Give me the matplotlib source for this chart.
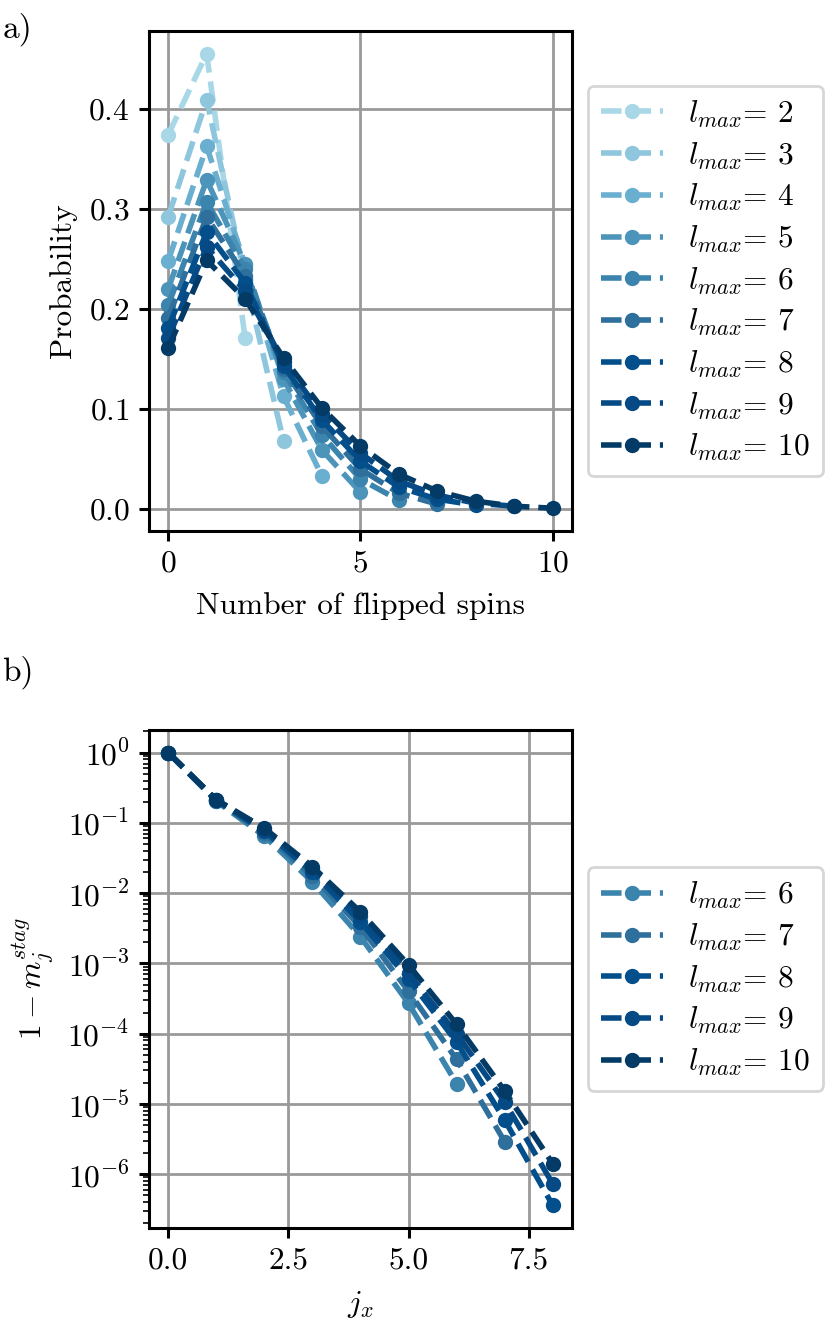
import matplotlib
matplotlib.use("Agg")
import matplotlib.pyplot as plt

plt.rcParams.update({
    "font.family": "serif",
    "font.serif": ["cmr10"],
    "mathtext.fontset": "cm",
    "axes.formatter.use_mathtext": True,
    "font.size": 11.3,
    "axes.linewidth": 1.1,
    "xtick.major.width": 1.1,
    "ytick.major.width": 1.1,
})

# panel a: probability of n flipped spins, one list per l_max
lmax_a = [2, 3, 4, 5, 6, 7, 8, 9, 10]
prob = {
    2: [0.374, 0.455, 0.171],
    3: [0.292, 0.409, 0.231, 0.068],
    4: [0.248, 0.3625, 0.244, 0.1126, 0.033],
    5: [0.220, 0.329, 0.245, 0.130, 0.059, 0.017],
    6: [0.2035, 0.307, 0.240, 0.137, 0.074, 0.030, 0.009],
    7: [0.191, 0.292, 0.233, 0.140, 0.083, 0.040, 0.016, 0.005],
    8: [0.181, 0.277, 0.226, 0.143, 0.089, 0.048, 0.022, 0.010, 0.004],
    9: [0.171, 0.262, 0.218, 0.147, 0.095, 0.056, 0.028, 0.014, 0.006, 0.003],
    10: [0.161, 0.2485, 0.210, 0.151, 0.101, 0.063, 0.035, 0.018, 0.008, 0.003, 0.001],
}

# panel b: 1 - staggered magnetisation along j_x
lmax_b = [6, 7, 8, 9, 10]
stag = {
    6: [1.0, 0.204, 0.065, 0.0145, 0.0024, 0.00027, 1.95e-5],
    7: [1.0, 0.207, 0.071, 0.0175, 0.0033, 0.00040, 4.3e-5, 2.9e-6],
    8: [1.0, 0.210, 0.076, 0.020, 0.0039, 0.00060, 7.6e-5, 5.9e-6, 3.6e-7],
    9: [1.0, 0.212, 0.080, 0.022, 0.0047, 0.00072, 1.0e-4, 1.07e-5, 7.3e-7],
    10: [1.0, 0.214, 0.084, 0.0238, 0.0054, 0.00095, 1.36e-4, 1.53e-5, 1.41e-6],
}
jx_ticks = [0.0, 2.5, 5.0, 7.5]

colors = {
    2: "#a8d8e8", 3: "#8ec6de", 4: "#6aaed0", 5: "#4c94ba", 6: "#3a84ad",
    7: "#2e6f9c", 8: "#034f8c", 9: "#054a84", 10: "#033b66",
}

fig = plt.figure(figsize=(4.15, 6.64), dpi=200)
ax1 = fig.add_axes([0.1795, 0.6002, 0.5096, 0.3765])
ax2 = fig.add_axes([0.1795, 0.0753, 0.5096, 0.375])

for l in lmax_a:
    y = prob[l]
    ax1.plot(range(len(y)), y, "--o", color=colors[l], lw=2, ms=4.5,
             label=r"$l_{max}$= " + str(l))
ax1.set_xlabel("Number of flipped spins", labelpad=5)
ax1.set_ylabel("Probability")
ax1.set_xticks([0, 5, 10])
ax1.set_yticks([0.0, 0.1, 0.2, 0.3, 0.4])
ax1.grid(True, color="#999999", lw=1)
ax1.set_axisbelow(True)
ax1.legend(loc="center left", bbox_to_anchor=(1.038, 0.5), borderaxespad=0,
           labelspacing=0.33)

for l in lmax_b:
    y = stag[l]
    ax2.plot(range(len(y)), y, "--o", color=colors[l], lw=2, ms=4.5,
             label=r"$l_{max}$= " + str(l))
ax2.set_yscale("log")
ax2.set_xticks(jx_ticks)
ax2.set_xticklabels([f"{t:.1f}" for t in jx_ticks])
ax2.set_xlabel(r"$j_x$", labelpad=5)
ax2.set_ylabel(r"$1-m_j^{stag}$")
ax2.grid(True, color="#999999", lw=1)
ax2.set_axisbelow(True)
ax2.legend(loc="center left", bbox_to_anchor=(1.038, 0.5), borderaxespad=0,
           labelspacing=0.33)

fig.text(0.003, 0.978, "a)", fontsize=12, va="center")
fig.text(0.003, 0.494, "b)", fontsize=12, va="center")

fig.savefig("out.png", dpi=200)
